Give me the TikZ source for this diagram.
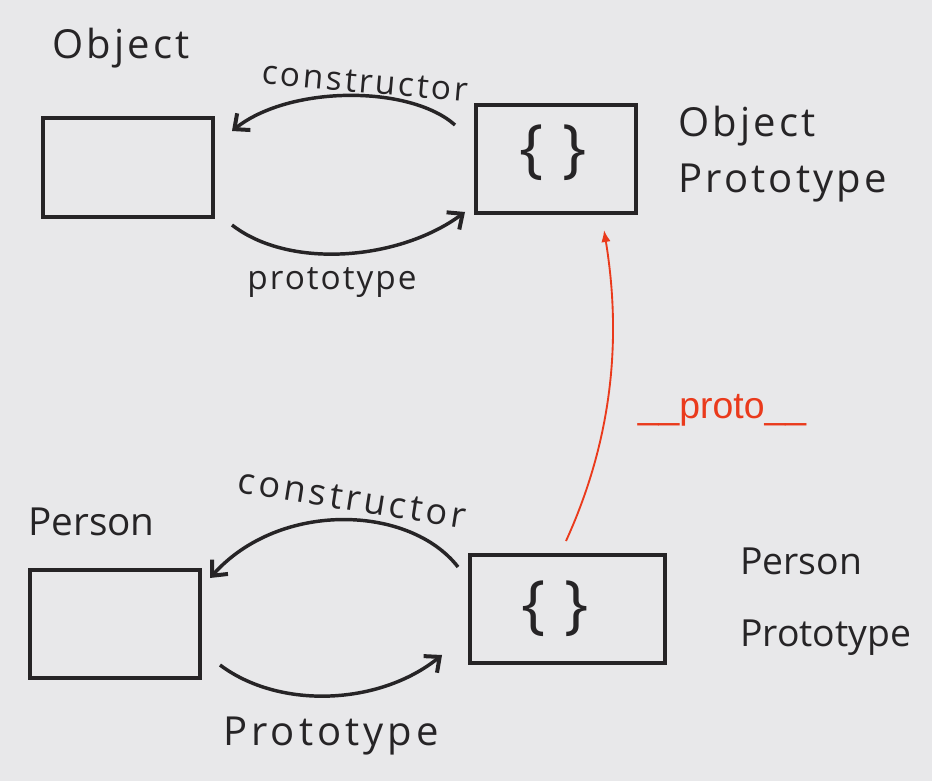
\documentclass[tikz,border=0pt]{standalone}
\usepackage{fontspec}
\setmainfont{Open Sans}
\newfontfamily\redfont{Liberation Sans}
\usetikzlibrary{arrows.meta}
\definecolor{paper}{RGB}{232,232,234}
\definecolor{ink}{RGB}{38,36,38}
\definecolor{redink}{RGB}{234,58,28}
\begin{document}
\begin{tikzpicture}[x=0.75pt,y=-0.75pt,
  box/.style={draw=ink,line width=3pt,minimum width=#1,inner sep=0pt},
  hand/.style={ink,line width=2.6pt,-{Straight Barb[length=9pt,width=16pt,line width=3pt]}},
  lbl/.style={text=ink,inner sep=0pt},
  title/.style={text=ink,inner sep=0pt,align=left},
  brace/.style={text=ink,font=\fontsize{48}{50}\selectfont\addfontfeatures{LetterSpace=30},inner sep=0pt}]
\fill[paper] (0,0) rectangle (932,781);
\useasboundingbox (0,0) rectangle (932,781);

% boxes
\node[box=127.5pt,minimum height=74pt] (obj) at (127.5,167.5) {};
\node[box=120pt,minimum height=81pt] (objp) at (555.5,159) {};
\node[brace] (objpb) at (553,153) {\{\}};
\node[box=127.5pt,minimum height=81pt] (per) at (115,624) {};
\node[box=146pt,minimum height=81pt] (perp) at (567.5,609) {};
\node[brace] (perpb) at (555,609) {\{\}};

% titles
\node[title,anchor=west,font=\fontsize{30}{32}\selectfont\addfontfeatures{LetterSpace=8}] (objt) at (52,48) {Object};
\node[title,anchor=north west,font=\fontsize{30}{38}\selectfont\addfontfeatures{LetterSpace=8}] (objpt) at (678,106) {Object\\[4pt]Prototype};
\node[title,anchor=west,font=\fontsize{29}{32}\selectfont] (pert) at (28,522) {Person};
\node[title,anchor=north west,font=\fontsize{28}{34}\selectfont] (perpt) at (740,548) {Person\\[20pt]Prototype};

% arrow endpoints
\coordinate (c1s) at (455,125);
\coordinate (c1e) at (232,131);
\coordinate (p1s) at (232,225);
\coordinate (p1e) at (465,212);
\coordinate (c2s) at (458,567);
\coordinate (c2e) at (210,578);
\coordinate (p2s) at (220,665);
\coordinate (p2e) at (442,655);
\coordinate (rs) at (566,541);
\coordinate (re) at (604,230);

\draw[hand] (c1s) .. controls (410,85) and (290,85) .. (c1e);
\draw[hand] (p1s) .. controls (290,270) and (400,260) .. (p1e);
\draw[hand] (c2s) .. controls (410,505) and (280,500) .. (c2e);
\draw[hand] (p2s) .. controls (280,710) and (380,705) .. (p2e);
\draw[redink,line width=1.4pt,-{Latex[length=9pt,width=7pt]}] (rs) .. controls (612,440) and (622,340) .. (re);

% arrow labels
\node[lbl,rotate=-5,font=\fontsize{25}{27}\selectfont\addfontfeatures{LetterSpace=8}] (c1l) at (365,82) {constructor};
\node[lbl,font=\fontsize{25}{27}\selectfont\addfontfeatures{LetterSpace=6}] (p1l) at (332,283) {prototype};
\node[lbl,rotate=-9,font=\fontsize{27}{29}\selectfont\addfontfeatures{LetterSpace=10}] (c2l) at (352,499) {constructor};
\node[lbl,font=\fontsize{30}{32}\selectfont\addfontfeatures{LetterSpace=10}] (p2l) at (331,736) {Prototype};
\node[text=redink,font=\redfont\fontsize{28}{30}\selectfont,inner sep=0pt] (rl) at (722,410) {\_\_proto\_\_};
\end{tikzpicture}
\end{document}
